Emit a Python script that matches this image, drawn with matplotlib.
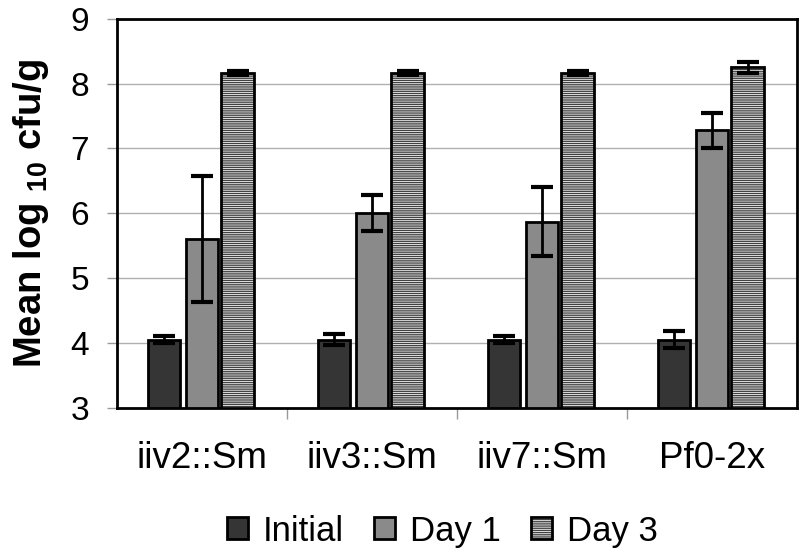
import numpy as np
import matplotlib
matplotlib.use('Agg')
import matplotlib.pyplot as plt

plt.rcParams['font.family'] = ['Liberation Sans', 'DejaVu Sans']
plt.rcParams['hatch.color'] = '#bcbcbc'
plt.rcParams['hatch.linewidth'] = 0.5

strains = ['iiv2::Sm', 'iiv3::Sm', 'iiv7::Sm', 'Pf0-2x']
series = ['Initial', 'Day 1', 'Day 3']
initial = [4.05, 4.05, 4.05, 4.05]
initial_err = [0.05, 0.08, 0.05, 0.13]
day1 = [5.60, 6.00, 5.87, 7.28]
day1_err = [0.97, 0.28, 0.53, 0.27]
day3 = [8.17, 8.17, 8.17, 8.25]
day3_err = [0.03, 0.03, 0.03, 0.08]

colors = ['#353535', '#8a8a8a', '#d8d8d8']
hatches = [None, None, '---------']

fig = plt.figure(figsize=(8, 5.54), dpi=100)
ax = fig.add_axes([0.146, 0.264, 0.85, 0.702])

x = np.arange(len(strains))
offsets = [-0.222, 0.0, 0.21]
width = 0.19
for vals, errs, off, c, h, name in zip([initial, day1, day3], [initial_err, day1_err, day3_err],
                                        offsets, colors, hatches, series):
    ax.bar(x + off, np.array(vals) - 3, width, bottom=3, color=c, edgecolor='black',
           linewidth=2, hatch=h, label=name, zorder=3)
    ax.errorbar(x + off, vals, yerr=errs, fmt='none', ecolor='black', elinewidth=2,
                capsize=8, capthick=3, zorder=4)

ax.set_ylim(3, 9)
ax.set_xlim(-0.5, 3.5)
ax.set_yticks(range(3, 10))
ax.yaxis.grid(True, color='#b0b0b0', linewidth=1, zorder=0)
ax.set_axisbelow(True)
ax.set_xticks(x)
ax.set_xticklabels(strains, fontsize=26.5)
ax.set_xticks([0.5, 1.5, 2.5], minor=True)
ax.tick_params(axis='x', which='major', length=0, pad=24)
ax.tick_params(axis='x', which='minor', length=8, color='#999999', width=1)
ax.tick_params(axis='y', labelsize=24, length=7, color='#999999', width=1, pad=13)
for s in ax.spines.values():
    s.set_linewidth(2)
ax.set_ylabel(r'Mean log $_{\mathregular{10}}$ cfu/g', fontsize=27.5, fontweight='bold', labelpad=14)

fig.legend(loc='lower center', bbox_to_anchor=(0.553, -0.045), ncol=3, frameon=False,
           fontsize=25, handlelength=0.6, handleheight=0.6, handletextpad=0.45, columnspacing=0.85)

fig.savefig('out.png', dpi=100)
